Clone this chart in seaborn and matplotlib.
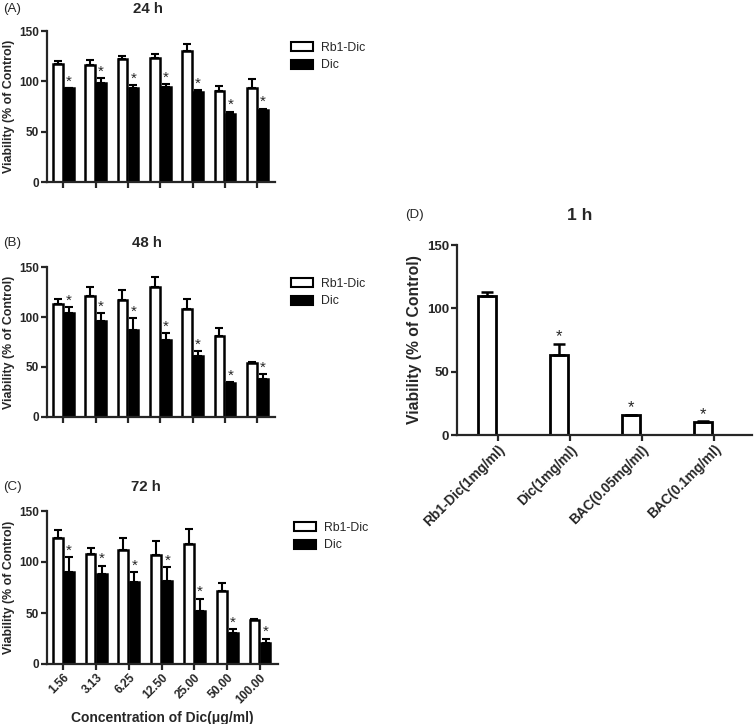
import numpy as np
import pandas as pd
import matplotlib
matplotlib.use("Agg")
import matplotlib.pyplot as plt
import seaborn as sns

# data (mean, upper SD)
conc = ["1.56", "3.13", "6.25", "12.50", "25.00", "50.00", "100.00"]
groups = ["Rb1-Dic", "Dic"]

rb1_24 = [117, 116, 122, 123, 130, 90, 93]
rb1_24_err = [3, 5, 3, 4, 7, 5, 9]
dic_24 = [93, 98, 93, 94, 89, 68, 72]
dic_24_err = [0.5, 5, 3, 3, 2, 2, 1]

rb1_48 = [113, 121, 117, 130, 108, 81, 54]
rb1_48_err = [5, 9, 10, 10, 10, 8, 0.7]
dic_48 = [104, 96, 87, 77, 61, 34, 38]
dic_48_err = [6, 8, 12, 7, 5, 1, 5]

rb1_72 = [124, 108, 112, 107, 118, 72, 43]
rb1_72_err = [7, 6, 12, 14, 14, 7, 1]
dic_72 = [90, 88, 80, 81, 52, 30, 21]
dic_72_err = [15, 8.5, 10, 14, 12, 4, 4]

d_labels = ["Rb1-Dic(1mg/ml)", "Dic(1mg/ml)", "BAC(0.05mg/ml)", "BAC(0.1mg/ml)"]
d_vals = [109.5, 63, 15.5, 10.5]
d_err = [3.5, 9, 0.3, 0.3]
d_star = [False, True, True, True]

sns.set_theme(style="ticks")
plt.rcParams["font.family"] = ["Liberation Sans", "DejaVu Sans"]

W, H = 755, 724
fig = plt.figure(figsize=(W / 100, H / 100), dpi=100)


def px_axes(left, top, right, bottom):
    return fig.add_axes([left / W, 1 - bottom / H, (right - left) / W, (bottom - top) / H])


def style_axes(ax, fs=8.5):
    sns.despine(ax=ax)
    for s in ["left", "bottom"]:
        ax.spines[s].set_linewidth(1.6)
    ax.tick_params(axis="both", direction="out", length=4, width=1.6, labelsize=fs, pad=1.5)
    ax.set_ylim(0, 150)
    ax.set_yticks([0, 50, 100, 150])
    for lab in ax.get_yticklabels():
        lab.set_fontweight("bold")
    ax.set_xlabel("")


def time_panel(ax, rb1, rb1_err, dic, dic_err, show_x):
    df = pd.DataFrame({
        "conc": conc * 2,
        "group": [groups[0]] * len(conc) + [groups[1]] * len(conc),
        "value": rb1 + dic,
    })
    sns.barplot(data=df, x="conc", y="value", hue="group", hue_order=groups,
                palette={"Rb1-Dic": "white", "Dic": "black"}, edgecolor="black",
                linewidth=1.8, width=0.68, gap=0.12, errorbar=None, ax=ax)
    for cont, errs, star in zip(ax.containers, [rb1_err, dic_err], [False, True]):
        for bar, e in zip(cont, errs):
            x = bar.get_x() + bar.get_width() / 2
            h = bar.get_height()
            ax.errorbar(x, h, yerr=[[0], [e]], color="black", capsize=3.2,
                        elinewidth=1.5, capthick=1.5)
            if star:
                ax.text(x, h + e - 0.5, "*", ha="center", va="bottom", fontsize=11)
    ax.set_xlim(-0.5, 6.55)
    style_axes(ax)
    ax.set_ylabel("Viability (% of Control)", fontsize=8.9, fontweight="bold", labelpad=3)
    if show_x:
        ax.set_xticks(range(len(conc)))
        ax.set_xticklabels(conc, rotation=45, ha="right", rotation_mode="anchor",
                           fontweight="bold", fontsize=8.5)
        ax.set_xlabel("Concentration of Dic(μg/ml)", fontsize=10, fontweight="bold", labelpad=4)
    else:
        ax.set_xticklabels([])
    leg = ax.legend(loc="upper left", bbox_to_anchor=(1.02, 1.0), frameon=False,
                    fontsize=8.8, handlelength=1.8, handleheight=0.75,
                    handletextpad=0.7, labelspacing=0.45)
    for p in leg.get_patches():
        p.set_linewidth(1.5)


panels = [
    ("(A)", "24 h", (47, 31, 275, 182), 9, 148, rb1_24, rb1_24_err, dic_24, dic_24_err, False),
    ("(B)", "48 h", (47, 267, 275, 417), 243, 147, rb1_48, rb1_48_err, dic_48, dic_48_err, False),
    ("(C)", "72 h", (47, 511, 278, 664), 487, 146, rb1_72, rb1_72_err, dic_72, dic_72_err, True),
]
for letter, title, box, ty, tx, r, re, d, de, show_x in panels:
    ax = px_axes(*box)
    time_panel(ax, r, re, d, de, show_x)
    fig.text(3 / W, 1 - ty / H, letter, fontsize=9.6, va="center", ha="left")
    fig.text(tx / W, 1 - ty / H, title, fontsize=10.8, fontweight="bold", va="center", ha="center")

# panel D: single series placed in the left slot of a two-slot group
axd = px_axes(457, 245, 752, 435)
dfd = pd.DataFrame({"treat": d_labels, "value": d_vals, "grp": ["a"] * 4})
sns.barplot(data=dfd, x="treat", y="value", hue="grp", hue_order=["a", "b"],
            palette={"a": "white", "b": "white"}, edgecolor="black", linewidth=2.0,
            width=0.62, gap=0.18, dodge=True, errorbar=None, legend=False, ax=axd)
for bar, e, st in zip(axd.containers[0], d_err, d_star):
    x = bar.get_x() + bar.get_width() / 2
    h = bar.get_height()
    axd.errorbar(x, h, yerr=[[0], [e]], color="black", capsize=4.5,
                 elinewidth=1.8, capthick=1.8)
    if st:
        axd.text(x, h + e - 0.5, "*", ha="center", va="bottom", fontsize=12)
axd.set_xlim(-0.57, 3.53)
style_axes(axd, fs=9.5)
axd.set_xticks(range(len(d_labels)))
axd.set_xticklabels(d_labels, rotation=45, ha="right", rotation_mode="anchor",
                    fontweight="bold", fontsize=9.8)
axd.set_ylabel("Viability (% of Control)", fontsize=11.3, fontweight="bold", labelpad=4)
fig.text(405 / W, 1 - 215 / H, "(D)", fontsize=9.6, va="center", ha="left")
fig.text(580 / W, 1 - 215 / H, "1 h", fontsize=12.5, fontweight="bold", va="center", ha="center")

fig.savefig("out.png", dpi=100)
